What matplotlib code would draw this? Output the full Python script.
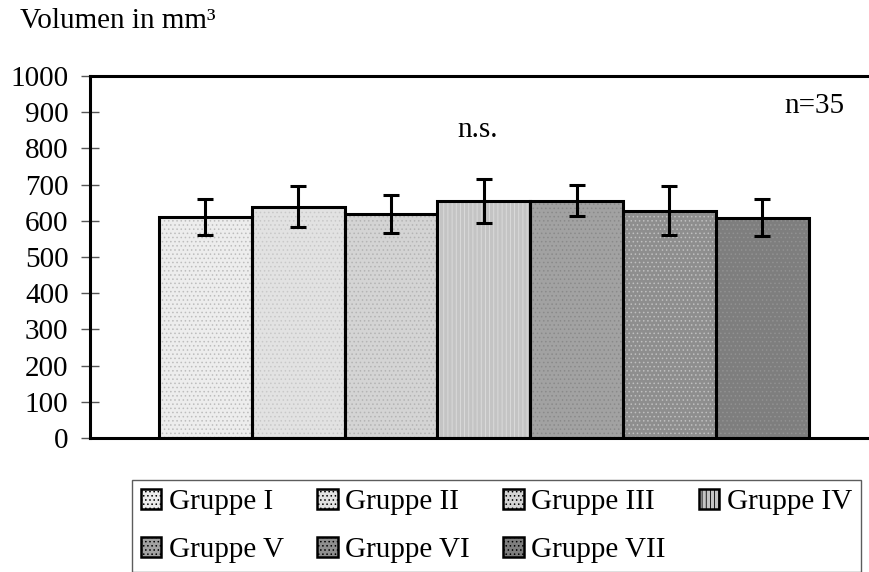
import matplotlib
matplotlib.use("Agg")
import matplotlib.pyplot as plt

# data
groups = ["Gruppe I", "Gruppe II", "Gruppe III", "Gruppe IV",
          "Gruppe V", "Gruppe VI", "Gruppe VII"]
volumes = [611, 639, 619, 655, 656, 628, 609]
errors = [50, 57, 53, 60, 44, 67, 51]
yticks = [0, 100, 200, 300, 400, 500, 600, 700, 800, 900, 1000]

FILLS = ["#ededed", "#e2e2e2", "#d4d4d4", "#c4c4c4", "#a2a2a2", "#8e8e8e", "#7e7e7e"]
HATCH = ["....", "....", "....", "||||", "....", "....", "...."]
HATCH_COL = ["#bdbdbd", "#c8c8c8", "#b4b4b4", "#dedede", "#8a8a8a", "#c0c0c0", "#929292"]

plt.rcParams.update({
    "font.family": ["Liberation Serif", "DejaVu Serif"],
    "font.size": 21,
    "hatch.linewidth": 0.6,
})

fig = plt.figure(figsize=(8.69, 5.72), dpi=100)
ax = fig.add_axes([0.1036, 0.2343, 0.8964, 0.6328])

x = list(range(len(groups)))
for i in x:
    ax.bar(i, volumes[i], width=1.0, color=FILLS[i], edgecolor=HATCH_COL[i],
           hatch=HATCH[i], linewidth=0, zorder=2, label=groups[i])
    ax.bar(i, volumes[i], width=1.0, color="none", edgecolor="black",
           linewidth=2.2, zorder=3)
ax.errorbar(x, volumes, yerr=errors, fmt="none", ecolor="black",
            elinewidth=2.2, capsize=6, capthick=2.2, zorder=4)

ax.set_xlim(-1.242, 7.15)
ax.set_ylim(0, 1000)
ax.set_yticks(yticks)
ax.set_xticks([])
ax.spines["right"].set_visible(False)
for s in ["left", "top", "bottom"]:
    ax.spines[s].set_linewidth(2.2)
ax.tick_params(axis="y", direction="inout", length=13, width=1,
               color="#555555", labelsize=21, pad=9)

fig.text(0.023, 0.964, "Volumen in mm³", fontsize=21, va="center", ha="left")
ax.text(0.497, 0.852, "n.s.", transform=ax.transAxes, fontsize=21,
        ha="center", va="center")
ax.text(0.93, 0.918, "n=35", transform=ax.transAxes, fontsize=21,
        ha="center", va="center")

# legend filled row by row: I II III IV / V VI VII
handles, labels = ax.get_legend_handles_labels()
order = [0, 4, 1, 5, 2, 6, 3]
leg = fig.legend([handles[k] for k in order], [labels[k] for k in order],
                 loc="upper left", ncol=4, bbox_to_anchor=(0.152, 0.161),
                 fontsize=21, frameon=True, fancybox=False, edgecolor="#333333",
                 handlelength=0.7, handleheight=0.7, handletextpad=0.25,
                 columnspacing=1.15, borderpad=0.3, labelspacing=0.75,
                 borderaxespad=0)
leg.get_frame().set_linewidth(1.0)
for h in leg.legend_handles:
    h.set_edgecolor("black")
    h.set_linewidth(1.8)

fig.savefig("out.png", dpi=100)
